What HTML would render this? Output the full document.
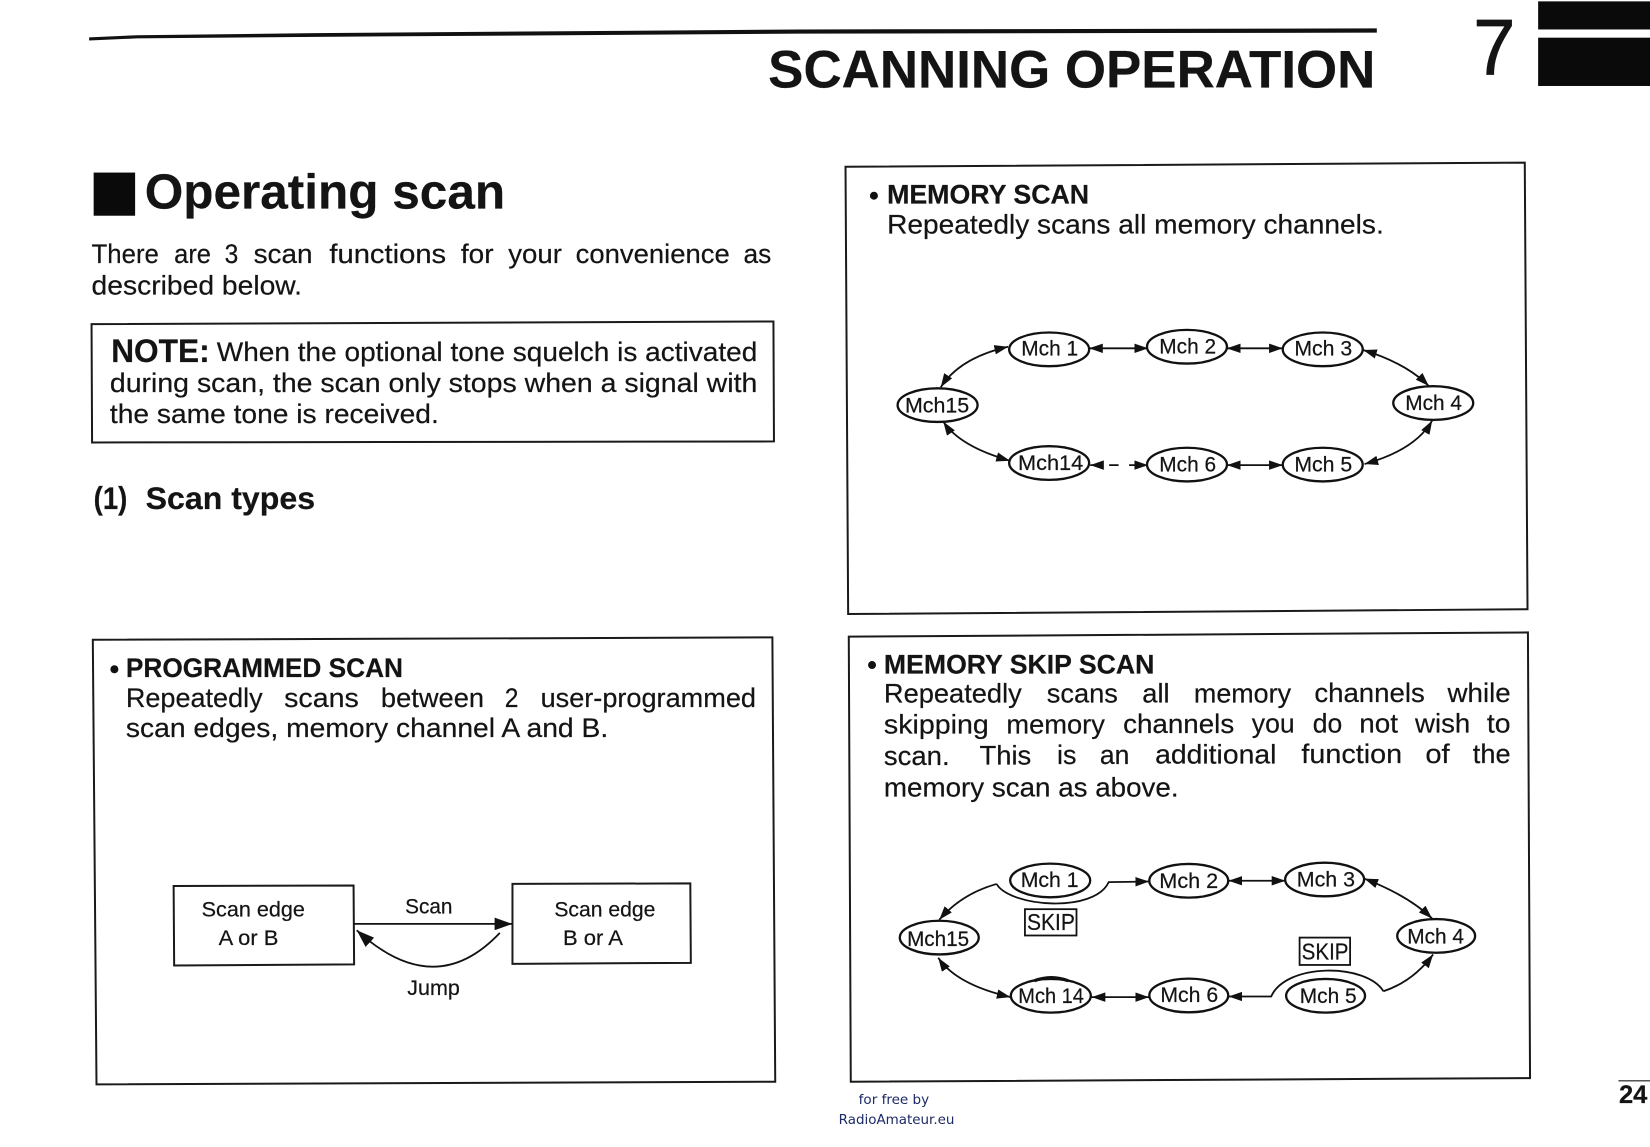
<!DOCTYPE html>
<html lang="en">
<head>
<meta charset="utf-8">
<title>Scanning Operation</title>
<style>
html,body{margin:0;padding:0;background:#fff}
svg{display:block}
text{font-family:"Liberation Sans",Arial,sans-serif;fill:#141414;stroke:#141414;stroke-width:.2px}
.t{font-size:25.5px}
.h{font-size:25.5px;font-weight:bold}
.m{font-size:20px}
.s{font-size:20.5px}
.f{font-family:"DejaVu Sans",sans-serif;font-size:12.5px;fill:#1c2a66;stroke:none}
.box{fill:none;stroke:#1a1a1a;stroke-width:1.9}
.o{fill:#fff;stroke:#111;stroke-width:2.2}
.c{fill:none;stroke:#111;stroke-width:1.7}
</style>
</head>
<body>
<svg xmlns="http://www.w3.org/2000/svg" width="1650" height="1147" viewBox="0 0 1568 1090">
<defs>
<marker id="a" viewBox="0 0 13 9" refX="13" refY="4.5" markerWidth="13" markerHeight="9" markerUnits="userSpaceOnUse" orient="auto-start-reverse"><path d="M0,0 L13,4.5 L0,9 z" fill="#111"/></marker>
<marker id="b" viewBox="0 0 17 12" refX="17" refY="6" markerWidth="17" markerHeight="12" markerUnits="userSpaceOnUse" orient="auto-start-reverse"><path d="M0,0 L17,6 L0,12 z" fill="#111"/></marker>
</defs>
<rect width="1568" height="1090" fill="#fff"/>

<!-- Header -->
<polygon points="84.7,35.5 130,33.5 300,31.5 760,28 1308.4,27 1308.4,31 760,32 300,35 130,36.5 84.7,38.5" fill="#111"/>
<text x="730" y="83" font-size="50" font-weight="bold" textLength="577" lengthAdjust="spacingAndGlyphs">SCANNING OPERATION</text>
<text x="1400" y="71" font-size="75" textLength="40" lengthAdjust="spacingAndGlyphs" style="stroke-width:.8px">7</text>
<rect x="1461.7" y="1.3" width="106.3" height="26.7" fill="#0a0a0a"/>
<rect x="1461.7" y="35.8" width="106.3" height="45.9" fill="#0a0a0a"/>

<!-- Left column heading -->
<rect x="89" y="164" width="39.4" height="41" fill="#0a0a0a"/>
<text x="137.5" y="198" font-size="47" font-weight="bold" textLength="342.5" lengthAdjust="spacingAndGlyphs">Operating scan</text>

<text class="t" x="87" y="250" textLength="64" lengthAdjust="spacingAndGlyphs">There</text>
<text class="t" x="165.5" y="250" textLength="35" lengthAdjust="spacingAndGlyphs">are</text>
<text class="t" x="213.5" y="250" textLength="13" lengthAdjust="spacingAndGlyphs">3</text>
<text class="t" x="241" y="250" textLength="56" lengthAdjust="spacingAndGlyphs">scan</text>
<text class="t" x="313" y="250" textLength="111" lengthAdjust="spacingAndGlyphs">functions</text>
<text class="t" x="438" y="250" textLength="31" lengthAdjust="spacingAndGlyphs">for</text>
<text class="t" x="483" y="250" textLength="51" lengthAdjust="spacingAndGlyphs">your</text>
<text class="t" x="547" y="250" textLength="146.5" lengthAdjust="spacingAndGlyphs">convenience</text>
<text class="t" x="706.6" y="250" textLength="26.4" lengthAdjust="spacingAndGlyphs">as</text>
<text class="t" x="87" y="280" textLength="200" lengthAdjust="spacingAndGlyphs">described below.</text>

<!-- Note -->
<polygon class="box" points="87,308 735,305.5 735.5,419.5 87.5,420.5"/>
<text x="105.7" y="344" font-size="31" font-weight="bold" textLength="93.5" lengthAdjust="spacingAndGlyphs">NOTE:</text>
<text class="t" x="206" y="343" textLength="513.7" lengthAdjust="spacingAndGlyphs">When the optional tone squelch is activated</text>
<text class="t" x="104.4" y="372.5" textLength="615.3" lengthAdjust="spacingAndGlyphs">during scan, the scan only stops when a signal with</text>
<text class="t" x="104.4" y="402" textLength="312.6" lengthAdjust="spacingAndGlyphs">the same tone is received.</text>

<text x="89" y="483.5" font-size="29.5" font-weight="bold" textLength="32" lengthAdjust="spacingAndGlyphs">(1)</text>
<text x="138.4" y="483.5" font-size="29.5" font-weight="bold" textLength="161" lengthAdjust="spacingAndGlyphs">Scan types</text>

<!-- Programmed scan -->
<polygon class="box" points="88.2,608 734,605.7 736.7,1028 91.7,1030.5"/>
<circle cx="108.7" cy="636" r="3.8" fill="#111"/>
<text class="h" x="119.6" y="643.5" textLength="263.4" lengthAdjust="spacingAndGlyphs">PROGRAMMED SCAN</text>
<text class="t" x="119.6" y="672" textLength="130" lengthAdjust="spacingAndGlyphs">Repeatedly</text>
<text class="t" x="270" y="672" textLength="71" lengthAdjust="spacingAndGlyphs">scans</text>
<text class="t" x="362" y="672" textLength="98" lengthAdjust="spacingAndGlyphs">between</text>
<text class="t" x="479.7" y="672" textLength="13" lengthAdjust="spacingAndGlyphs">2</text>
<text class="t" x="513.7" y="672" textLength="204.7" lengthAdjust="spacingAndGlyphs">user-programmed</text>
<text class="t" x="119.6" y="700.5" textLength="458.4" lengthAdjust="spacingAndGlyphs">scan edges, memory channel A and B.</text>

<polygon class="box" points="165,842 336,841.5 336.5,916.5 165.5,917.5"/>
<polygon class="box" points="487,840 656,839.5 656.5,915 487,916"/>
<text class="s" x="191.6" y="871" textLength="98.2" lengthAdjust="spacingAndGlyphs">Scan edge</text>
<text class="s" x="207.8" y="898" textLength="56.7" lengthAdjust="spacingAndGlyphs">A or B</text>
<text class="s" x="526.8" y="871" textLength="96" lengthAdjust="spacingAndGlyphs">Scan edge</text>
<text class="s" x="535" y="898" textLength="57" lengthAdjust="spacingAndGlyphs">B or A</text>
<text class="s" x="385" y="868" textLength="45" lengthAdjust="spacingAndGlyphs">Scan</text>
<text class="s" x="387" y="945.5" textLength="50" lengthAdjust="spacingAndGlyphs">Jump</text>
<path class="c" d="M336,878 L487,878" marker-end="url(#b)"/>
<path class="c" d="M475,886.5 Q413,952 339,884" marker-end="url(#b)"/>

<!-- Memory scan -->
<polygon class="box" points="803.5,158.5 1449,154.5 1451.6,579 806,583.5"/>
<circle cx="830.5" cy="186" r="3.8" fill="#111"/>
<text class="h" x="843" y="193.5" textLength="192" lengthAdjust="spacingAndGlyphs">MEMORY SCAN</text>
<text class="t" x="843" y="222" textLength="472" lengthAdjust="spacingAndGlyphs">Repeatedly scans all memory channels.</text>

<path class="c" d="M958,329.5 Q912,340 894,368" marker-start="url(#a)" marker-end="url(#a)"/>
<path class="c" d="M1035,331 L1091,331" marker-start="url(#a)" marker-end="url(#a)"/>
<path class="c" d="M1166,331 L1219,331" marker-start="url(#a)" marker-end="url(#a)"/>
<path class="c" d="M1295.4,332.6 Q1336,345 1357.8,366.8" marker-start="url(#a)" marker-end="url(#a)"/>
<path class="c" d="M1361,399.7 Q1345,427.6 1296.7,441" marker-start="url(#a)" marker-end="url(#a)"/>
<path class="c" d="M1219,442 L1166,442" marker-start="url(#a)" marker-end="url(#a)"/>
<path class="c" d="M1091,442 L1036,442" stroke-dasharray="9 10" stroke-dashoffset="-9" marker-start="url(#a)" marker-end="url(#a)"/>
<path class="c" d="M959.7,437.8 Q912.4,424.5 896.4,400.7" marker-start="url(#a)" marker-end="url(#a)"/>
<ellipse class="o" cx="997" cy="332" rx="38" ry="16"/>
<ellipse class="o" cx="1128" cy="329.5" rx="38" ry="16"/>
<ellipse class="o" cx="1257" cy="332" rx="38" ry="16"/>
<ellipse class="o" cx="1362" cy="383" rx="38" ry="16"/>
<ellipse class="o" cx="1257" cy="441.5" rx="38" ry="16"/>
<ellipse class="o" cx="1128" cy="441.5" rx="38" ry="16"/>
<ellipse class="o" cx="997" cy="440" rx="38" ry="16"/>
<ellipse class="o" cx="891" cy="385" rx="38" ry="16"/>
<text class="m" x="970.5" y="338" textLength="54" lengthAdjust="spacingAndGlyphs">Mch 1</text>
<text class="m" x="1101.7" y="336" textLength="54" lengthAdjust="spacingAndGlyphs">Mch 2</text>
<text class="m" x="1230" y="338" textLength="55" lengthAdjust="spacingAndGlyphs">Mch 3</text>
<text class="m" x="1335.4" y="389.6" textLength="54" lengthAdjust="spacingAndGlyphs">Mch 4</text>
<text class="m" x="1230" y="448" textLength="55" lengthAdjust="spacingAndGlyphs">Mch 5</text>
<text class="m" x="1101.7" y="448" textLength="54" lengthAdjust="spacingAndGlyphs">Mch 6</text>
<text class="m" x="967.4" y="446.6" textLength="62" lengthAdjust="spacingAndGlyphs">Mch14</text>
<text class="m" x="860" y="391.8" textLength="61" lengthAdjust="spacingAndGlyphs">Mch15</text>

<!-- Memory skip scan -->
<polygon class="box" points="806.6,605 1452,601 1454,1024.5 808.5,1028"/>
<circle cx="828.7" cy="632" r="3.8" fill="#111"/>
<text class="h" x="840" y="640" textLength="257" lengthAdjust="spacingAndGlyphs">MEMORY SKIP SCAN</text>

<text class="t" x="840" y="667.5" textLength="131" lengthAdjust="spacingAndGlyphs">Repeatedly</text>
<text class="t" x="994.7" y="667.5" textLength="67.7" lengthAdjust="spacingAndGlyphs">scans</text>
<text class="t" x="1085.5" y="667.5" textLength="26" lengthAdjust="spacingAndGlyphs">all</text>
<text class="t" x="1134.6" y="667.5" textLength="92.3" lengthAdjust="spacingAndGlyphs">memory</text>
<text class="t" x="1249" y="667" textLength="105" lengthAdjust="spacingAndGlyphs">channels</text>
<text class="t" x="1375.6" y="667" textLength="60" lengthAdjust="spacingAndGlyphs">while</text>

<text class="t" x="840" y="697" textLength="99.7" lengthAdjust="spacingAndGlyphs">skipping</text>
<text class="t" x="956.4" y="697" textLength="93.6" lengthAdjust="spacingAndGlyphs">memory</text>
<text class="t" x="1067.3" y="696.5" textLength="105.6" lengthAdjust="spacingAndGlyphs">channels</text>
<text class="t" x="1189.6" y="696" textLength="40.7" lengthAdjust="spacingAndGlyphs">you</text>
<text class="t" x="1247.5" y="696" textLength="28" lengthAdjust="spacingAndGlyphs">do</text>
<text class="t" x="1291.7" y="696" textLength="36.8" lengthAdjust="spacingAndGlyphs">not</text>
<text class="t" x="1344.7" y="696" textLength="52.5" lengthAdjust="spacingAndGlyphs">wish</text>
<text class="t" x="1413" y="696" textLength="22.5" lengthAdjust="spacingAndGlyphs">to</text>

<text class="t" x="840" y="727" textLength="62.4" lengthAdjust="spacingAndGlyphs">scan.</text>
<text class="t" x="930.8" y="726.5" textLength="49.2" lengthAdjust="spacingAndGlyphs">This</text>
<text class="t" x="1004.5" y="726" textLength="18.5" lengthAdjust="spacingAndGlyphs">is</text>
<text class="t" x="1045.2" y="726" textLength="28" lengthAdjust="spacingAndGlyphs">an</text>
<text class="t" x="1097.7" y="725.5" textLength="115.3" lengthAdjust="spacingAndGlyphs">additional</text>
<text class="t" x="1236.7" y="725" textLength="95.7" lengthAdjust="spacingAndGlyphs">function</text>
<text class="t" x="1354.5" y="725" textLength="23.1" lengthAdjust="spacingAndGlyphs">of</text>
<text class="t" x="1399.6" y="725" textLength="35.9" lengthAdjust="spacingAndGlyphs">the</text>

<text class="t" x="840" y="757" textLength="280" lengthAdjust="spacingAndGlyphs">memory scan as above.</text>

<path class="c" d="M947,840 C960,862 1040,868 1053.6,838.3 L1091.9,837.7" marker-end="url(#a)"/>
<path class="c" d="M947,840 Q913.7,849.5 892.6,874" marker-end="url(#a)"/>
<path class="c" d="M1167.5,837 L1221.5,837" marker-start="url(#a)" marker-end="url(#a)"/>
<path class="c" d="M1296.6,835 Q1338,851 1360.9,872.8" marker-start="url(#a)" marker-end="url(#a)"/>
<path class="c" d="M1314.7,942 Q1343,932.5 1361.9,907" marker-end="url(#a)"/>
<path class="c" d="M1314.7,942 C1298,915 1222,915 1208,947 L1167.5,947" marker-end="url(#a)"/>
<path class="c" d="M1091.9,947.6 L1037.4,947.6" marker-start="url(#a)" marker-end="url(#a)"/>
<path class="c" d="M960.3,947.6 Q908.8,935.7 891.6,910.2" marker-start="url(#a)" marker-end="url(#a)"/>
<ellipse class="o" cx="998" cy="836.7" rx="38" ry="16"/>
<ellipse class="o" cx="1129.7" cy="837" rx="37.5" ry="16"/>
<ellipse class="o" cx="1258.8" cy="835.8" rx="37.5" ry="16"/>
<ellipse class="o" cx="1364.8" cy="889.4" rx="37" ry="16"/>
<ellipse class="o" cx="1259.7" cy="946.3" rx="37.5" ry="16"/>
<ellipse class="o" cx="1129.7" cy="946" rx="37.5" ry="16"/>
<ellipse class="o" cx="998.6" cy="946.3" rx="38" ry="16"/>
<ellipse class="o" cx="892.6" cy="891" rx="37.5" ry="16"/>
<path d="M983,932 Q999,926 1015,932" fill="none" stroke="#111" stroke-width="3"/>
<text class="m" x="970" y="843" textLength="55" lengthAdjust="spacingAndGlyphs">Mch 1</text>
<text class="m" x="1101.7" y="843.8" textLength="56" lengthAdjust="spacingAndGlyphs">Mch 2</text>
<text class="m" x="1232.3" y="842.5" textLength="55.4" lengthAdjust="spacingAndGlyphs">Mch 3</text>
<text class="m" x="1337.3" y="896.5" textLength="54" lengthAdjust="spacingAndGlyphs">Mch 4</text>
<text class="m" x="1235.2" y="953.3" textLength="54" lengthAdjust="spacingAndGlyphs">Mch 5</text>
<text class="m" x="1102.7" y="952.4" textLength="55" lengthAdjust="spacingAndGlyphs">Mch 6</text>
<text class="m" x="967.7" y="953.3" textLength="62.3" lengthAdjust="spacingAndGlyphs">Mch 14</text>
<text class="m" x="862" y="899" textLength="59" lengthAdjust="spacingAndGlyphs">Mch15</text>
<rect x="974" y="864" width="49" height="25" fill="none" stroke="#111" stroke-width="1.7"/>
<text x="976" y="884" font-size="22" textLength="45.5" lengthAdjust="spacingAndGlyphs">SKIP</text>
<rect x="1235" y="891" width="48" height="26" fill="none" stroke="#111" stroke-width="1.7"/>
<text x="1237" y="912" font-size="22" textLength="44.5" lengthAdjust="spacingAndGlyphs">SKIP</text>

<!-- Footer -->
<text class="f" x="816" y="1049" textLength="67" lengthAdjust="spacingAndGlyphs">for free by</text>
<text class="f" x="797" y="1068" textLength="110" lengthAdjust="spacingAndGlyphs">RadioAmateur.eu</text>
<rect x="1538" y="1026.5" width="30" height="1.2" fill="#333"/>
<text x="1538.5" y="1048" font-size="24" font-weight="bold" textLength="27" lengthAdjust="spacingAndGlyphs">24</text>
</svg>
</body>
</html>
